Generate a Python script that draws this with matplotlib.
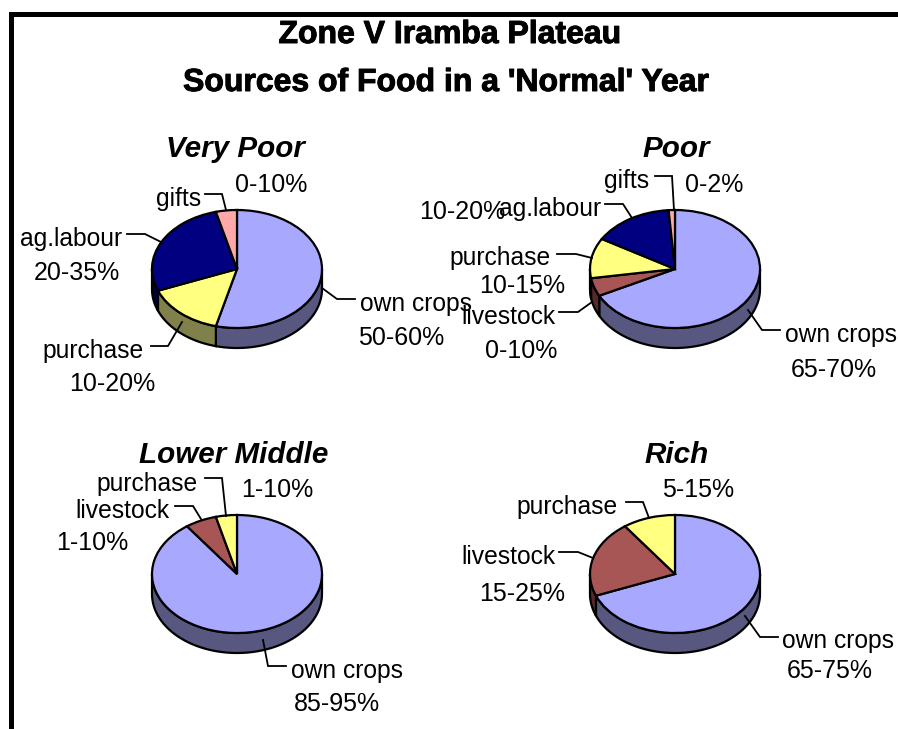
import numpy as np
import matplotlib
matplotlib.use("Agg")
import matplotlib.pyplot as plt
import matplotlib.patheffects as pe

W, H = 898, 729
plt.rcParams['font.family'] = ['Liberation Sans', 'DejaVu Sans']

# ---- data ----
title_lines = ["Zone V Iramba Plateau", "Sources of Food in a 'Normal' Year"]
groups = ["Very Poor", "Poor", "Lower Middle", "Rich"]
very_poor_sources = ["own crops", "purchase", "ag.labour", "gifts"]
very_poor_values = [54, 15, 27, 4]
very_poor_ranges = ["50-60%", "10-20%", "20-35%", "0-10%"]
poor_sources = ["own crops", "livestock", "purchase", "ag.labour", "gifts"]
poor_values = [67.5, 5, 11, 15.3, 1.2]
poor_ranges = ["65-70%", "0-10%", "10-15%", "10-20%", "0-2%"]
lower_middle_sources = ["own crops", "livestock", "purchase"]
lower_middle_values = [90, 6, 4]
lower_middle_ranges = ["85-95%", "1-10%", "1-10%"]
rich_sources = ["own crops", "livestock", "purchase"]
rich_values = [69, 21, 10]
rich_ranges = ["65-75%", "15-25%", "5-15%"]

# ---- styles and layout (pixels) ----
TOP = {"own crops": "#A8A8FF", "purchase": "#FFFF80", "ag.labour": "#000080",
       "gifts": "#FFA8A8", "livestock": "#A85555"}
SIDE = {"own crops": "#57577F", "purchase": "#80804A", "ag.labour": "#000040",
        "gifts": "#805454", "livestock": "#55282A"}
RX, RY, DEPTH = 85, 59, 20
LABEL_FS, RANGE_FS, GROUP_FS, TITLE_FS = 17.7, 18, 21.3, 23

panels = [
    dict(name=groups[0], src=very_poor_sources, val=very_poor_values, rng=very_poor_ranges,
         c=(237, 269), title=(235, 157),
         name_pos=[(416, 311), (93, 358), (71, 246), (179, 206)],
         rng_pos=[(401, 345), (112, 391), (77, 280), (271, 192)],
         leaders=[[(322, 288), (337, 299), (355, 299)], [(151, 346), (168, 346), (182, 322)],
                  [(127, 234), (145, 234), (161, 242)], [(205, 194), (222, 194), (226, 210)]]),
    dict(name=groups[1], src=poor_sources, val=poor_values, rng=poor_ranges,
         c=(675, 269), title=(676, 157),
         name_pos=[(841, 342), (508, 324), (500, 265), (550, 216), (627, 188)],
         rng_pos=[(834, 377), (521, 358), (522, 293), (462, 219), (714, 192)],
         leaders=[[(748, 310), (762, 330), (780, 330)], [(559, 312), (578, 312), (592, 302)],
                  [(557, 254), (576, 254), (592, 258)], [(605, 204), (623, 204), (632, 218)],
                  [(655, 176), (672, 176), (674, 210)]]),
    dict(name=groups[2], src=lower_middle_sources, val=lower_middle_values, rng=lower_middle_ranges,
         c=(237, 574), title=(234, 463),
         name_pos=[(347, 678), (122, 518), (147, 491)],
         rng_pos=[(337, 711), (92, 550), (277, 497)],
         leaders=[[(263, 640), (268, 666), (286, 666)], [(175, 506), (193, 506), (201, 519)],
                  [(205, 478), (222, 478), (226, 516)]]),
    dict(name=groups[3], src=rich_sources, val=rich_values, rng=rich_ranges,
         c=(675, 574), title=(677, 463),
         name_pos=[(838, 648), (508, 564), (567, 514)],
         rng_pos=[(830, 678), (522, 601), (698, 497)],
         leaders=[[(745, 616), (760, 637), (778, 637)], [(559, 552), (578, 552), (593, 558)],
                  [(626, 502), (643, 502), (649, 518)]]),
]

fig = plt.figure(figsize=(W / 100, H / 100), dpi=100, facecolor="white")


def draw_pie(p):
    cx, cy = p["c"]
    ax = fig.add_axes([(cx - RX) / W, 1 - (cy + RY) / H, 2 * RX / W, 2 * RY / H])
    d = DEPTH / RY
    fr = np.cumsum([0] + list(p["val"])) / sum(p["val"])
    for k, s in enumerate(p["src"]):
        # clockwise angle from 12 o'clock; the front half runs from 90 to 270 degrees
        a0, a1 = max(fr[k] * 360, 90), min(fr[k + 1] * 360, 270)
        if a1 <= a0:
            continue
        t = np.radians(np.linspace(a0, a1, 60))
        x, y = np.sin(t), np.cos(t)
        ax.fill(np.r_[x, x[::-1]], np.r_[y, y[::-1] - d], facecolor=SIDE[s],
                edgecolor="black", linewidth=1.6, clip_on=False, zorder=1)
    wedges, _ = ax.pie(p["val"], colors=[TOP[s] for s in p["src"]], startangle=90,
                       counterclock=False, radius=1,
                       wedgeprops=dict(edgecolor="black", linewidth=1.6))
    for w in wedges:
        w.set_zorder(2)
        w.set_clip_on(False)
    ax.set_aspect("auto")
    ax.set_xlim(-1, 1)
    ax.set_ylim(-1, 1)
    ax.axis("off")


for p in panels:
    draw_pie(p)

ov = fig.add_axes([0, 0, 1, 1], zorder=5)
ov.set_xlim(0, W)
ov.set_ylim(H, 0)
ov.axis("off")
ov.patch.set_alpha(0)

# frame at the top and left of the picture
ov.fill_between([9, 14], 12, H, color="black", linewidth=0)
ov.fill_between([9, W], 12, 16.5, color="black", linewidth=0)

heavy = [pe.withStroke(linewidth=0.7, foreground="black")]
ov.text(450, 43, title_lines[0], ha="center", va="baseline", fontsize=TITLE_FS,
        fontweight="bold", path_effects=heavy)
ov.text(446, 91, title_lines[1], ha="center", va="baseline", fontsize=TITLE_FS,
        fontweight="bold", path_effects=heavy)

for p in panels:
    ov.text(*p["title"], p["name"], ha="center", va="baseline", fontsize=GROUP_FS,
            fontweight="bold", fontstyle="italic")
    for s, r, np_, rp, ld in zip(p["src"], p["rng"], p["name_pos"], p["rng_pos"], p["leaders"]):
        ov.text(*np_, s, ha="center", va="baseline", fontsize=LABEL_FS)
        ov.text(*rp, r, ha="center", va="baseline", fontsize=RANGE_FS)
        xs, ys = zip(*ld)
        ov.plot(xs, ys, color="black", linewidth=1.3, solid_joinstyle="miter")

fig.savefig("out.png", dpi=100)
